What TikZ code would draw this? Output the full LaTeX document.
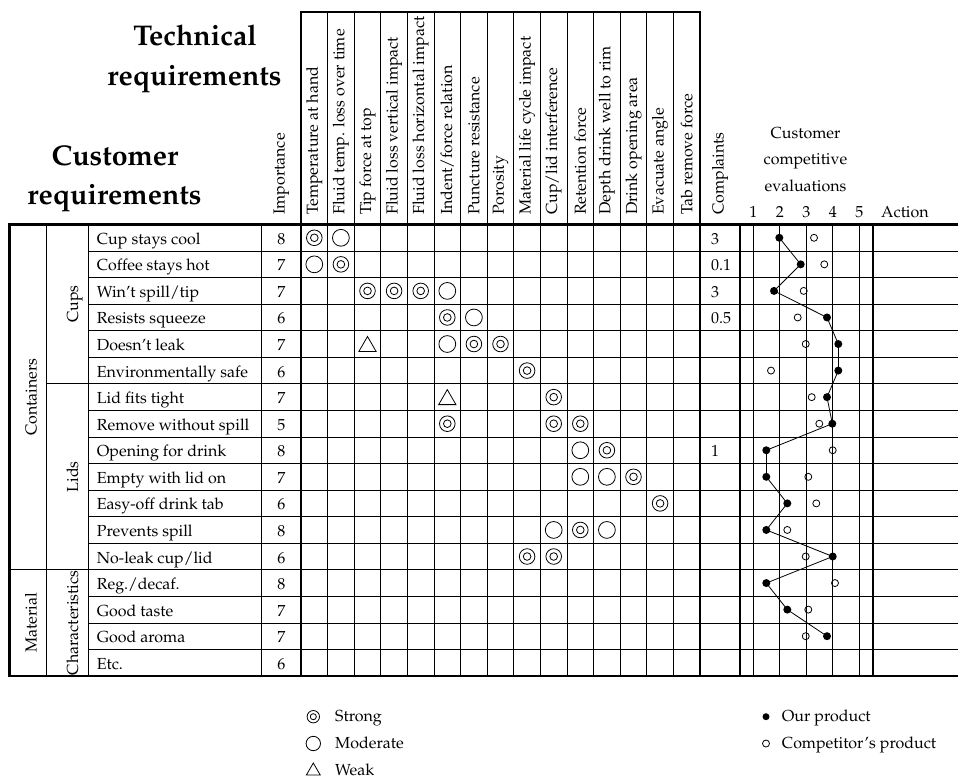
\documentclass[tikz,border=0pt]{standalone}
\usepackage[T1]{fontenc}
\usepackage{mathpazo}
\usetikzlibrary{shapes.geometric}
\begin{document}
\begin{tikzpicture}[x=1pt,y=-1pt,
  gthin/.style={line width=0.8pt},
  gthick/.style={line width=2.4pt, line cap=rect},
  txt/.style={font=\fontsize{16}{19}\selectfont, inner sep=0pt},
  hd/.style={txt, rotate=90, anchor=west},
  side/.style={txt, rotate=90, anchor=base},
  ttl/.style={font=\fontsize{28.5}{34}\selectfont\bfseries, inner sep=0pt, anchor=base},
  strongsym/.style={circle, draw, line width=0.8pt, minimum size=#1, inner sep=0pt,
    path picture={\draw[line width=0.8pt] (path picture bounding box.center) circle[radius=0.245*#1];}},
  modsym/.style={circle, draw, line width=0.8pt, minimum size=#1, inner sep=0pt},
  weaksym/.style={regular polygon, regular polygon sides=3, draw, line width=0.8pt, minimum size=#1, inner sep=0pt},
  ourdot/.style={circle, fill, minimum size=8pt, inner sep=0pt},
  compdot/.style={circle, draw, line width=0.8pt, minimum size=7pt, inner sep=0pt},
]
\useasboundingbox (0,0) rectangle (958,779);

% ---------- titles ----------
\node[ttl] (t1) at (195,45) {Technical};
\node[ttl] (t2) at (194.5,85) {requirements};
\node[ttl] (t3) at (115,165) {Customer};
\node[ttl] (t4) at (114.5,204) {requirements};

% ---------- grid ----------
\def\yT{224.5}\def\yB{676}\def\rh{26.56}
% row separators
\foreach \k in {1,...,16}{
  \pgfmathsetmacro{\yy}{\yT+\rh*\k}
  \draw[gthin] (88.3,\yy) -- (958,\yy);
}
\pgfmathsetmacro{\yy}{\yT+\rh*6}
\draw[gthin] (46,\yy) -- (88.3,\yy);
\pgfmathsetmacro{\yy}{\yT+\rh*13}
\draw[gthin] (9.3,\yy) -- (88.3,\yy);
% vertical separators in the requirement area
\foreach \xx in {46,88.3,261.7}{\draw[gthin] (\xx,\yT) -- (\xx,\yB);}
% technical requirement columns
\foreach \k in {1,...,14}{
  \pgfmathsetmacro{\xx}{301+26.6*\k}
  \draw[gthin] (\xx,11.7) -- (\xx,\yB);
}
% evaluation scale lines
\foreach \k in {0,...,4}{
  \pgfmathsetmacro{\xx}{753.3+26.5*\k}
  \draw[gthin] (\xx,\yT) -- (\xx,\yB);
}
% heavy borders
\draw[gthick] (301,\yB) -- (301,11.7) -- (700,11.7) -- (700,\yB);
\draw[gthick] (9.3,\yT) -- (958,\yT);
\draw[gthick] (9.3,\yB) -- (958,\yB);
\draw[gthick] (9.3,\yT) -- (9.3,\yB);
\draw[gthick] (740,\yT) -- (740,\yB);
\draw[gthick] (873,\yT) -- (873,\yB);

% ---------- column headings ----------
\node[hd] (h-imp) at (281.4,215) {Importance};
\foreach \c/\lab in {1/Temperature at hand, 2/Fluid temp. loss over time, 3/Tip force at top,
  4/Fluid loss vertical impact, 5/Fluid loss horizontal impact, 6/{Indent/force relation},
  7/Puncture resistance, 8/Porosity, 9/Material life cycle impact, 10/{Cup/lid interference},
  11/Retention force, 12/Depth drink well to rim, 13/Drink opening area, 14/Evacuate angle,
  15/Tab remove force}{
  \pgfmathsetmacro{\xx}{301+26.6*(\c-0.5)}
  \node[hd] (h-\c) at (\xx,215) {\lab};
}
\node[hd] (h-cmp) at (720,215) {Complaints};
\node[txt, anchor=base] (ev1) at (805.5,138.3) {Customer};
\node[txt, anchor=base] (ev2) at (805.5,164.5) {competitive};
\node[txt, anchor=base] (ev3) at (805.5,191) {evaluations};
\foreach \k in {1,...,5}{
  \pgfmathsetmacro{\xx}{753.3+26.5*(\k-1)}
  \node[txt, anchor=base] (sc-\k) at (\xx,217.3) {\k};
}
\node[txt, anchor=base west] (act) at (881,217.3) {Action};

% ---------- group labels ----------
\node[side] (g-cont) at (36.7,397.2) {Containers};
\node[side] (g-mat) at (36.7,622.9) {Material};
\node[side] (g-cups) at (78,304.2) {Cups};
\node[side] (g-lids) at (78,476.8) {Lids};
\node[side] (g-char) at (78,622.9) {Characteristics};

% ---------- customer requirements, importance, complaints ----------
\foreach \r/\req/\imp in {1/Cup stays cool/8, 2/Coffee stays hot/7, 3/{Win't spill/tip}/7,
  4/Resists squeeze/6, 5/Doesn't leak/7, 6/Environmentally safe/6, 7/Lid fits tight/7,
  8/Remove without spill/5, 9/Opening for drink/8, 10/Empty with lid on/7,
  11/Easy-off drink tab/6, 12/Prevents spill/8, 13/{No-leak cup/lid}/6,
  14/{Reg./decaf.}/8, 15/Good taste/7, 16/Good aroma/7, 17/Etc./6}{
  \pgfmathsetmacro{\yy}{\yT+\rh*(\r-0.5)+6.5}
  \node[txt, anchor=base west] (req-\r) at (96.7,\yy) {\req};
  \node[txt, anchor=base] (imp-\r) at (281.4,\yy) {\imp};
}
\foreach \r/\v in {1/3, 2/0.1, 3/3, 4/0.5, 9/1}{
  \pgfmathsetmacro{\yy}{\yT+\rh*(\r-0.5)+6.5}
  \node[txt, anchor=base west] (cmp-\r) at (711,\yy) {\v};
}

% ---------- relationship matrix ----------
\foreach \r/\c in {1/1,2/2,3/3,3/4,3/5,4/6,5/7,5/8,6/9,7/10,8/6,8/10,8/11,
  9/12,10/13,11/14,12/11,13/9,13/10}{
  \pgfmathsetmacro{\xx}{301+26.6*(\c-0.5)}
  \pgfmathsetmacro{\yy}{\yT+\rh*(\r-0.5)}
  \node[strongsym=15.6pt] (m-\r-\c) at (\xx,\yy) {};
}
\foreach \r/\c in {1/2,2/1,3/6,4/7,5/6,9/11,10/11,10/12,12/10,12/12}{
  \pgfmathsetmacro{\xx}{301+26.6*(\c-0.5)}
  \pgfmathsetmacro{\yy}{\yT+\rh*(\r-0.5)}
  \node[modsym=16.8pt] (m-\r-\c) at (\xx,\yy) {};
}
\foreach \r/\c in {5/3,7/6}{
  \pgfmathsetmacro{\xx}{301+26.6*(\c-0.5)}
  \pgfmathsetmacro{\yy}{\yT+\rh*(\r-0.5)+2.5}
  \node[weaksym=20pt] (m-\r-\c) at (\xx,\yy) {};
}

% ---------- competitive evaluations ----------
\foreach \r/\o/\p in {1/779.3/814, 2/800.7/824.3, 3/774/803.7, 4/827/797.7,
  5/838.3/805.7, 6/838.3/771, 7/827/811.7, 8/832.3/819.3, 9/766.3/832.7,
  10/766.3/808.3, 11/787.3/816.3, 12/766.3/787.3, 13/832.7/805.7,
  14/766.3/835, 15/787.3/808.3, 16/827/805.7}{
  \pgfmathsetmacro{\yy}{\yT+\rh*(\r-0.5)}
  \node[compdot] (cp-\r) at (\p,\yy) {};
  \node[ourdot] (our-\r) at (\o,\yy) {};
}
\foreach \r in {1,...,15}{
  \pgfmathtruncatemacro{\nx}{\r+1}
  \draw[line width=0.8pt] (our-\r.center) -- (our-\nx.center);
}

% ---------- legend ----------
\node[strongsym=12.4pt] (lg-s) at (313.3,716.7) {};
\node[txt, anchor=base west] (lg-st) at (335,721.7) {Strong};
\node[modsym=14.4pt] (lg-m) at (313.3,743.5) {};
\node[txt, anchor=base west] (lg-mt) at (335,748.5) {Moderate};
\node[weaksym=16pt] (lg-w) at (313.3,771) {};
\node[txt, anchor=base west] (lg-wt) at (335,775) {Weak};
\node[ourdot, minimum size=7pt] (lg-o) at (766,716.7) {};
\node[txt, anchor=base west] (lg-ot) at (781.7,721.7) {Our product};
\node[compdot] (lg-c) at (766,743.5) {};
\node[txt, anchor=base west] (lg-ct) at (781.7,748.5) {Competitor's product};
\end{tikzpicture}
\end{document}
